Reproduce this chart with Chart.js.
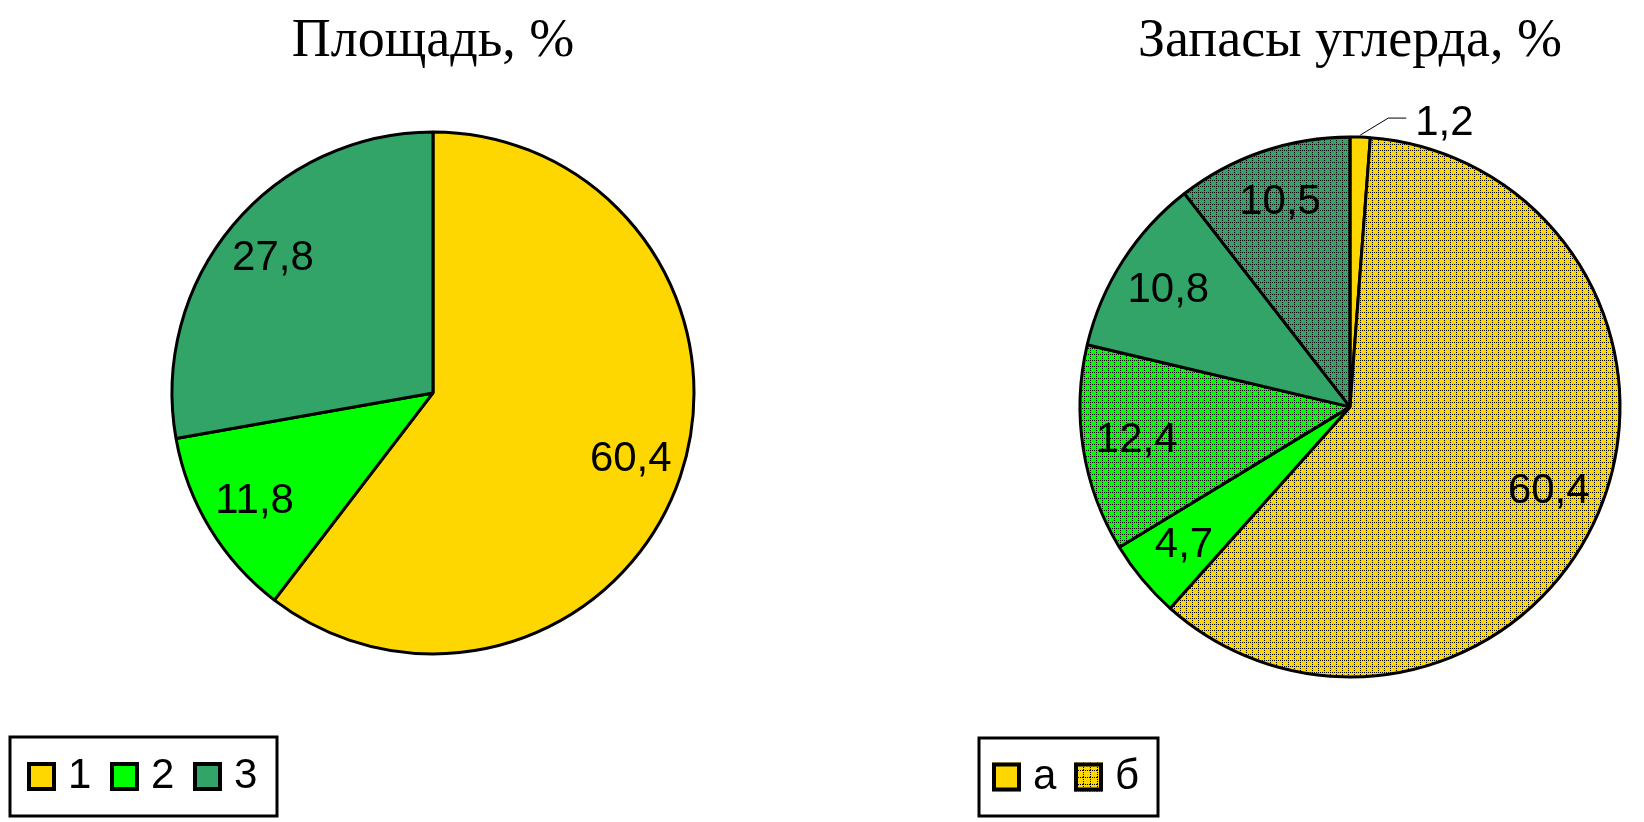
<!DOCTYPE html>
<html>
<head>
<meta charset="utf-8">
<script src="https://cdn.jsdelivr.net/npm/chart.js@4.4.1/dist/chart.umd.min.js"></script>
<style>
  html, body { margin: 0; padding: 0; background: #fff; overflow: hidden; }
  #wrap { position: relative; width: 1644px; height: 822px; }
  .box { position: absolute; top: 0; height: 822px; }
  #b1 { left: 0; width: 866px; }
  #b2 { left: 880px; width: 764px; }
</style>
</head>
<body>
<div id="wrap">
  <div class="box" id="b1"><canvas id="grafico-area"></canvas></div>
  <div class="box" id="b2"><canvas id="grafico-carbon"></canvas></div>
</div>
<script>
// dados
var areaTitle = "Площадь, %";
var areaLabels = ["1", "2", "3"];
var areaValues = [60.4, 11.8, 27.8];

var carbonTitle = "Запасы углерда, %";
var carbonLabels = ["1а", "1б", "2а", "2б", "3а", "3б"];
var carbonValues = [1.2, 60.4, 4.7, 12.4, 10.8, 10.5];
var carbonLegend = ["а", "б"];

var yellow = "rgb(255, 215, 0)";
var green = "rgb(0, 255, 0)";
var dkgreen = "rgb(51, 164, 103)";

// dotted grid fill used for the "б" slices
function hatch(color, step) {
  var c = document.createElement("canvas");
  c.width = step;
  c.height = step;
  var g = c.getContext("2d");
  g.fillStyle = color;
  g.fillRect(0, 0, step, step);
  g.fillStyle = "#000";
  for (var i = 0; i < step; i += 2) {
    g.fillRect(i, 0, 1, 1);
    g.fillRect(0, i, 1, 1);
  }
  return g.createPattern(c, "repeat");
}

// values written on (or next to) each slice
var sliceLabels = {
  id: "sliceLabels",
  afterDatasetsDraw: function (chart, args, opts) {
    var ctx = chart.ctx;
    var meta = chart.getDatasetMeta(0);
    var values = chart.data.datasets[0].data;
    ctx.save();
    ctx.font = opts.font;
    ctx.fillStyle = "#000";
    ctx.strokeStyle = "#000";
    meta.data.forEach(function (arc, i) {
      var p = arc.getProps(["x", "y", "startAngle", "endAngle", "outerRadius"], true);
      var mid = (p.startAngle + p.endAngle) / 2;
      var text = values[i].toFixed(1).replace(".", ",");
      if (values[i] < opts.minInside) {
        var x0 = p.x + Math.cos(mid) * (p.outerRadius + 2);
        var y0 = p.y + Math.sin(mid) * (p.outerRadius + 2);
        var x1 = x0 + 28, y1 = y0 - 17;
        ctx.lineWidth = 1;
        ctx.beginPath();
        ctx.moveTo(x0, y0);
        ctx.lineTo(x1, y1);
        ctx.lineTo(x1 + 18, y1);
        ctx.stroke();
        ctx.textAlign = "left";
        ctx.textBaseline = "middle";
        ctx.fillText(text, x1 + 27, y1 + 5);
      } else {
        ctx.textAlign = "center";
        ctx.textBaseline = "middle";
        ctx.fillText(text,
          p.x + Math.cos(mid) * p.outerRadius * opts.at,
          p.y + Math.sin(mid) * p.outerRadius * opts.at);
      }
    });
    ctx.restore();
  }
};

// legend in a framed box, like the original
var boxLegend = {
  id: "boxLegend",
  afterDraw: function (chart, args, o) {
    var ctx = chart.ctx;
    ctx.save();
    ctx.lineWidth = 3;
    ctx.strokeStyle = "#000";
    ctx.strokeRect(o.x, o.y, o.w, o.h);
    ctx.font = o.font;
    ctx.textAlign = "left";
    ctx.textBaseline = "middle";
    ctx.fillStyle = "#000";
    var cy = o.y + o.h / 2;
    o.labels.forEach(function (lab, i) {
      var mx = o.x + o.first + i * o.step;
      var my = cy - o.size / 2;
      ctx.fillStyle = o.fills[i];
      ctx.fillRect(mx, my, o.size, o.size);
      ctx.lineWidth = 4;
      ctx.strokeRect(mx + 2, my + 2, o.size - 4, o.size - 4);
      ctx.fillStyle = "#000";
      ctx.fillText(lab, mx + o.size + 12, cy);
    });
    ctx.restore();
  }
};

function titleOpts(text) {
  return {
    display: true,
    text: text,
    color: "#000",
    font: { family: "Liberation Serif", size: 54, weight: "normal", lineHeight: 1.2 },
    padding: { top: 9, bottom: 0 }
  };
}

var labelFont = "42px 'Liberation Sans', Arial, sans-serif";

// grafico 1
var graf1 = document.getElementById("grafico-area").getContext("2d");
new Chart(graf1, {
  type: "pie",
  data: {
    labels: areaLabels,
    datasets: [{
      data: areaValues,
      backgroundColor: [yellow, green, dkgreen],
      borderColor: "#000",
      borderWidth: 3,
      radius: 261
    }]
  },
  options: {
    responsive: true,
    maintainAspectRatio: false,
    animation: false,
    events: [],
    layout: { padding: { left: 0, right: 0, top: 0, bottom: 110 } },
    plugins: {
      title: titleOpts(areaTitle),
      legend: { display: false },
      tooltip: { enabled: false },
      sliceLabels: { font: labelFont, at: 0.8, minInside: 3 },
      boxLegend: {
        x: 10, y: 737, w: 267, h: 79, first: 17, step: 83, size: 29,
        font: labelFont,
        labels: areaLabels,
        fills: [yellow, green, dkgreen]
      }
    }
  },
  plugins: [sliceLabels, boxLegend]
});

// grafico 2
var graf2 = document.getElementById("grafico-carbon").getContext("2d");
new Chart(graf2, {
  type: "pie",
  data: {
    labels: carbonLabels,
    datasets: [{
      data: carbonValues,
      backgroundColor: [yellow, hatch(yellow, 6), green, hatch(green, 6), dkgreen, hatch(dkgreen, 6)],
      borderColor: "#000",
      borderWidth: 3,
      radius: 270
    }]
  },
  options: {
    responsive: true,
    maintainAspectRatio: false,
    animation: false,
    events: [],
    layout: { padding: { left: 176, right: 0, top: 0, bottom: 82 } },
    plugins: {
      title: titleOpts(carbonTitle),
      legend: { display: false },
      tooltip: { enabled: false },
      sliceLabels: { font: labelFont, at: 0.8, minInside: 3 },
      boxLegend: {
        x: 99, y: 738, w: 179, h: 78, first: 13, step: 82, size: 29,
        font: labelFont,
        labels: carbonLegend,
        fills: [yellow, hatch(yellow, 7)]
      }
    }
  },
  plugins: [sliceLabels, boxLegend]
});
</script>
</body>
</html>
